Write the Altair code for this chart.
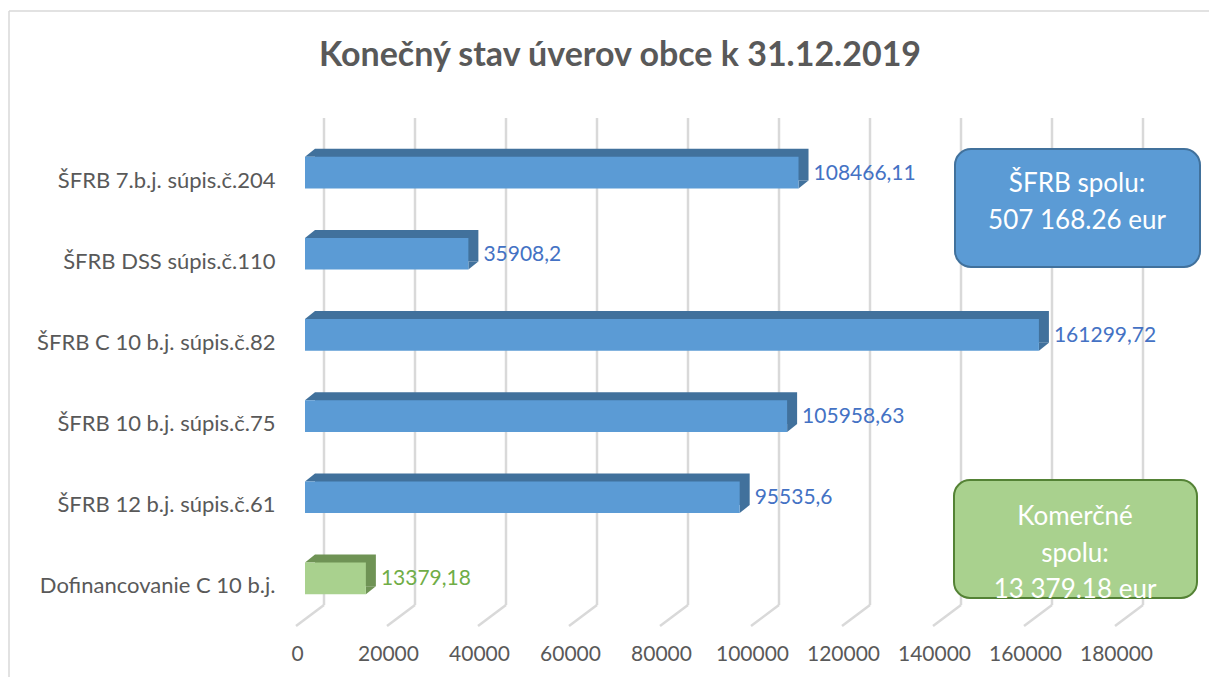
import altair as alt
import pandas as pd

# ---- data ----
categories = [
    "ŠFRB 7.b.j.  súpis.č.204",
    "ŠFRB DSS súpis.č.110",
    "ŠFRB C 10 b.j. súpis.č.82",
    "ŠFRB 10 b.j. súpis.č.75",
    "ŠFRB 12 b.j. súpis.č.61",
    "Dofinancovanie C 10 b.j.",
]
values = [108466.11, 35908.2, 161299.72, 105958.63, 95535.6, 13379.18]
value_labels = ["108466,11", "35908,2", "161299,72", "105958,63", "95535,6", "13379,18"]
groups = ["ŠFRB", "ŠFRB", "ŠFRB", "ŠFRB", "ŠFRB", "Komerčné"]
x_ticks = [0, 20000, 40000, 60000, 80000, 100000, 120000, 140000, 160000, 180000]

title_text = "Konečný stav úverov obce k 31.12.2019"
box1_lines = ["ŠFRB spolu:", "507 168.26 eur"]
box2_lines = ["Komerčné", "spolu:", "13 379.18 eur"]

df = pd.DataFrame({"cat": categories, "val": values, "lab": value_labels, "grp": groups})
ticks_df = pd.DataFrame({"t": x_ticks})
one = pd.DataFrame({"k": [0]})

FONT = "Lato"
GRID = "#D9D9D9"
TXT = "#595959"

xscale = alt.Scale(domain=[0, 180000], nice=False, zero=True)
yscale = alt.Scale(domain=categories, paddingInner=0.61, paddingOuter=0.305)
x_axis = alt.Axis(values=x_ticks, format="d", labelOffset=-8, labelFlush=False,
                  labelPadding=24, domain=False, ticks=False, tickSize=0, grid=False,
                  title=None, labelFont=FONT, labelFontSize=21, labelColor=TXT)
y_axis = alt.Axis(labelOffset=8, labelPadding=30, domain=False, ticks=False, tickSize=0,
                  grid=False, title=None, labelFont=FONT, labelFontSize=22, labelColor=TXT,
                  labelLimit=400)
grp_dom = ["ŠFRB", "Komerčné"]
back_colors = alt.Scale(domain=grp_dom, range=["#41719C", "#6F9355"])

X = alt.X("val:Q", scale=xscale, axis=x_axis)
Y = alt.Y("cat:N", scale=yscale, axis=y_axis, sort=categories)

# chart frame (left and top border visible)
border_left = alt.Chart(one).mark_rule(color="#D9D9D9", strokeWidth=1.5).encode(
    x=alt.value(-296), y=alt.value(-121), y2=alt.value(545))
border_top = alt.Chart(one).mark_rule(color="#D9D9D9", strokeWidth=1.5).encode(
    x=alt.value(-296), x2=alt.value(905), y=alt.value(-121))

# back-wall gridlines and floor lines (3D look)
grid_v = alt.Chart(ticks_df).mark_rule(color=GRID, strokeWidth=2.5, xOffset=19).encode(
    x=alt.X("t:Q", scale=xscale, axis=x_axis), y=alt.value(-14), y2=alt.value(473))
grid_d = alt.Chart(ticks_df).mark_rule(color=GRID, strokeWidth=2.5, xOffset=19, x2Offset=-9).encode(
    x=alt.X("t:Q", scale=xscale, axis=x_axis), x2="t:Q", y=alt.value(473), y2=alt.value(494))

# 3D bars: dark back body, bevel corners, then front face
bars_back = alt.Chart(df).mark_bar(xOffset=10, x2Offset=10, yOffset=-8, y2Offset=-8).encode(
    x=X, y=Y, color=alt.Color("grp:N", scale=back_colors, legend=None))
bevel_left = alt.Chart(df).mark_point(
    shape="M -1 0.8 L 1 0.8 L 1 -0.8 Z", size=100, filled=True, opacity=1, strokeWidth=0,
    xOffset=5, yOffset=-19.8).encode(
    x=alt.X("zero:Q", scale=xscale, axis=x_axis), y=Y,
    color=alt.Color("grp:N", scale=back_colors, legend=None)).transform_calculate(zero="0")
bevel_right = alt.Chart(df).mark_point(
    shape="M -1 0.8 L -1 -0.8 L 1 -0.8 Z", size=100, filled=True, opacity=1, strokeWidth=0,
    xOffset=5, yOffset=11.8).encode(
    x=X, y=Y, color=alt.Color("grp:N", scale=back_colors, legend=None))
bars_front = alt.Chart(df).mark_bar().encode(
    x=X, y=Y,
    color=alt.Color("grp:N", scale=alt.Scale(domain=grp_dom, range=["#5B9BD5", "#A9D18E"]), legend=None))
labels = alt.Chart(df).mark_text(align="left", baseline="middle", dx=15, dy=1,
                                 font=FONT, fontSize=21).encode(
    x=X, y=Y, text="lab:N",
    color=alt.Color("grp:N", scale=alt.Scale(domain=grp_dom, range=["#4472C4", "#70AD47"]), legend=None))

# title
title = alt.Chart(one).mark_text(text=title_text, font=FONT, fontSize=34, fontWeight="bold",
                                 color=TXT, align="center", baseline="middle").encode(
    x=alt.value(315), y=alt.value(-76))

# annotation boxes
def box_text(txt, x, y):
    return alt.Chart(one).mark_text(text=txt, font=FONT, fontSize=26, color="white",
                                    align="center", baseline="middle").encode(
        x=alt.value(x), y=alt.value(y))

box1 = alt.Chart(one).mark_rect(cornerRadius=16, fill="#5B9BD5", stroke="#41719C", strokeWidth=2).encode(
    x=alt.value(650), x2=alt.value(895), y=alt.value(17), y2=alt.value(135))
box2 = alt.Chart(one).mark_rect(cornerRadius=16, fill="#A9D18E", stroke="#548235", strokeWidth=2).encode(
    x=alt.value(649), x2=alt.value(892), y=alt.value(348), y2=alt.value(466))

chart = alt.layer(
    border_left, border_top, grid_v, grid_d, bars_back, bevel_left, bevel_right, bars_front, labels, title,
    box1, box_text(box1_lines[0], 772, 52), box_text(box1_lines[1], 772, 89),
    box2, box_text(box2_lines[0], 770, 385), box_text(box2_lines[1], 770, 422),
    box_text(box2_lines[2], 770, 458),
).resolve_scale(color="independent").properties(
    width=819, height=487,
    autosize=alt.AutoSizeParams(type="none"),
    padding={"left": 297, "top": 124, "right": 85, "bottom": 58},
    background="white",
).configure_view(stroke=None)

chart.save("out.html", embed_options={"renderer": "svg", "actions": False})
